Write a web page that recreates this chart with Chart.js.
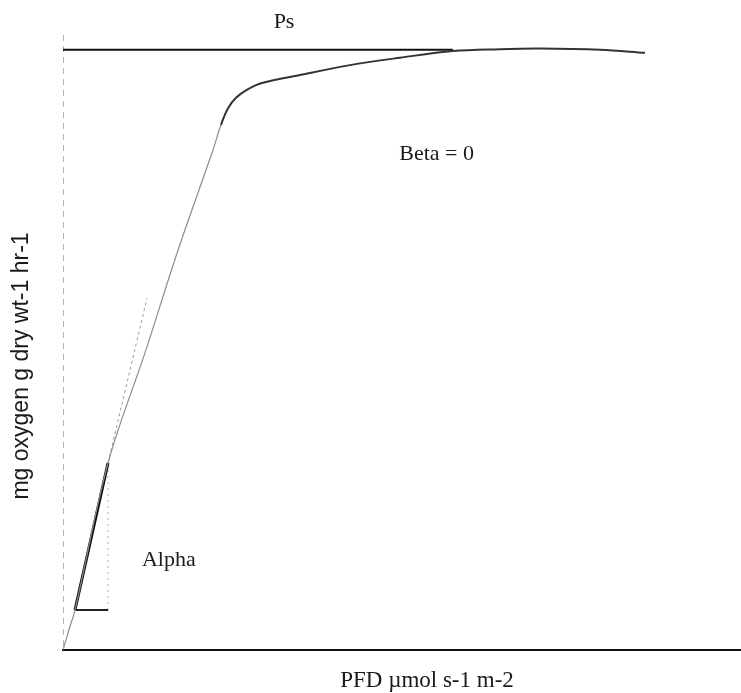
<!DOCTYPE html>
<html lang="en">
<head>
    <meta charset="UTF-8">
    <title>P-I curve</title>
    <script src="https://cdn.jsdelivr.net/npm/chart.js"></script>
    <style>
        body { margin: 0; background: #fff; }
        .wrap { width: 741px; height: 693px; position: relative; }
    </style>
</head>
<body>
    <div class="wrap">
        <canvas id="piChart"></canvas>
    </div>

    <script>
        // light response curve (PFD vs O2 rate, arbitrary units)
        const pfd  = [0, 8.8, 17.7, 66.4, 122.4, 169.6, 221.2, 233, 243.4, 255.2, 272.9, 293.5, 349.6, 423.3, 497, 575, 644.5, 703.5, 792, 858.4];
        const rate = [0, 3.3, 6.5, 30.4, 48.8, 65.0, 81.3, 85.4, 88.1, 89.8, 91.2, 92.2, 93.5, 95.1, 96.3, 97.4, 97.7, 97.8, 97.6, 97.1];

        // Ps plateau line
        const psX = [0, 575];
        const psY = [97.6, 97.6];

        // alpha (initial slope) triangle
        const alphaX = [17.7, 66.4];
        const alphaY = [6.5, 30.4];
        const alphaExtX = [66.4, 123.9];
        const alphaExtY = [30.4, 57.2];
        const baseX = [17.7, 66.4];
        const baseY = [6.5, 6.5];
        const riseX = [66.4, 66.4];
        const riseY = [6.5, 29.5];

        const xTitle = 'PFD µmol s-1 m-2';
        const yTitle = 'mg oxygen g dry wt-1 hr-1';

        const pts = (xs, ys) => xs.map((x, i) => ({ x: x, y: ys[i] }));

        // text labels drawn on top of the plot
        const labelPlugin = {
            id: 'labels',
            afterDraw(chart) {
                const ctx = chart.ctx;
                const xs = chart.scales.x, ys = chart.scales.y;
                ctx.save();
                ctx.fillStyle = '#1a1a1a';
                ctx.textAlign = 'center';
                ctx.textBaseline = 'alphabetic';
                ctx.font = '22px "Liberation Serif", serif';
                ctx.fillText('Ps', xs.getPixelForValue(326), ys.getPixelForValue(100) - 7);
                ctx.fillText('Beta = 0', xs.getPixelForValue(551), ys.getPixelForValue(79.7));
                ctx.fillText('Alpha', xs.getPixelForValue(156), ys.getPixelForValue(13.7));
                // axis titles
                ctx.font = '23px "Liberation Serif", serif';
                ctx.fillText(xTitle, 427, 687);
                ctx.translate(28, 366);
                ctx.rotate(-Math.PI / 2);
                ctx.font = '23px "Liberation Sans", Arial, sans-serif';
                ctx.fillText(yTitle, 0, 0);
                ctx.restore();
            }
        };

        new Chart(document.getElementById('piChart'), {
            type: 'line',
            data: {
                datasets: [
                    {
                        data: pts(pfd, rate),
                        borderColor: '#333',
                        borderWidth: 1.6,
                        pointRadius: 0,
                        tension: 0.35,
                        segment: {
                            borderColor: c => c.p1.parsed.y < 88 ? '#8c8c8c' : '#333',
                            borderWidth: c => c.p1.parsed.y < 88 ? 1.2 : 2
                        }
                    },
                    {
                        data: pts(psX, psY),
                        borderColor: '#111',
                        borderWidth: 2.2,
                        pointRadius: 0
                    },
                    {
                        data: pts(alphaX, alphaY),
                        borderColor: '#111',
                        borderWidth: 3,
                        pointRadius: 0
                    },
                    {
                        data: pts(alphaExtX, alphaExtY),
                        borderColor: '#9a9a9a',
                        borderWidth: 1,
                        borderDash: [3, 3],
                        pointRadius: 0
                    },
                    {
                        data: pts(baseX, baseY),
                        borderColor: '#222',
                        borderWidth: 2,
                        pointRadius: 0
                    },
                    {
                        data: pts(riseX, riseY),
                        borderColor: '#b0b0b0',
                        borderWidth: 1,
                        borderDash: [2, 4],
                        pointRadius: 0
                    }
                ]
            },
            options: {
                responsive: true,
                maintainAspectRatio: false,
                animation: false,
                layout: { padding: { left: 63, right: 0, top: 35, bottom: 43 } },
                plugins: {
                    legend: { display: false },
                    tooltip: { enabled: false }
                },
                scales: {
                    x: {
                        type: 'linear',
                        min: 0,
                        max: 1000,
                        // only the grid line at x = 0 is shown: the dashed, faint vertical axis
                        grid: {
                            display: true,
                            drawTicks: false,
                            color: c => c.tick && c.tick.value === 0 ? '#b5b5b5' : 'rgba(0,0,0,0)',
                            lineWidth: 1
                        },
                        ticks: { display: false, stepSize: 1000 },
                        border: { display: true, color: '#111', width: 2, dash: [6, 5] }
                    },
                    y: {
                        type: 'linear',
                        min: 0,
                        max: 100,
                        grid: { display: false, drawTicks: false },
                        ticks: { display: false },
                        border: { display: false }
                    }
                }
            },
            plugins: [labelPlugin]
        });
    </script>
</body>
</html>
